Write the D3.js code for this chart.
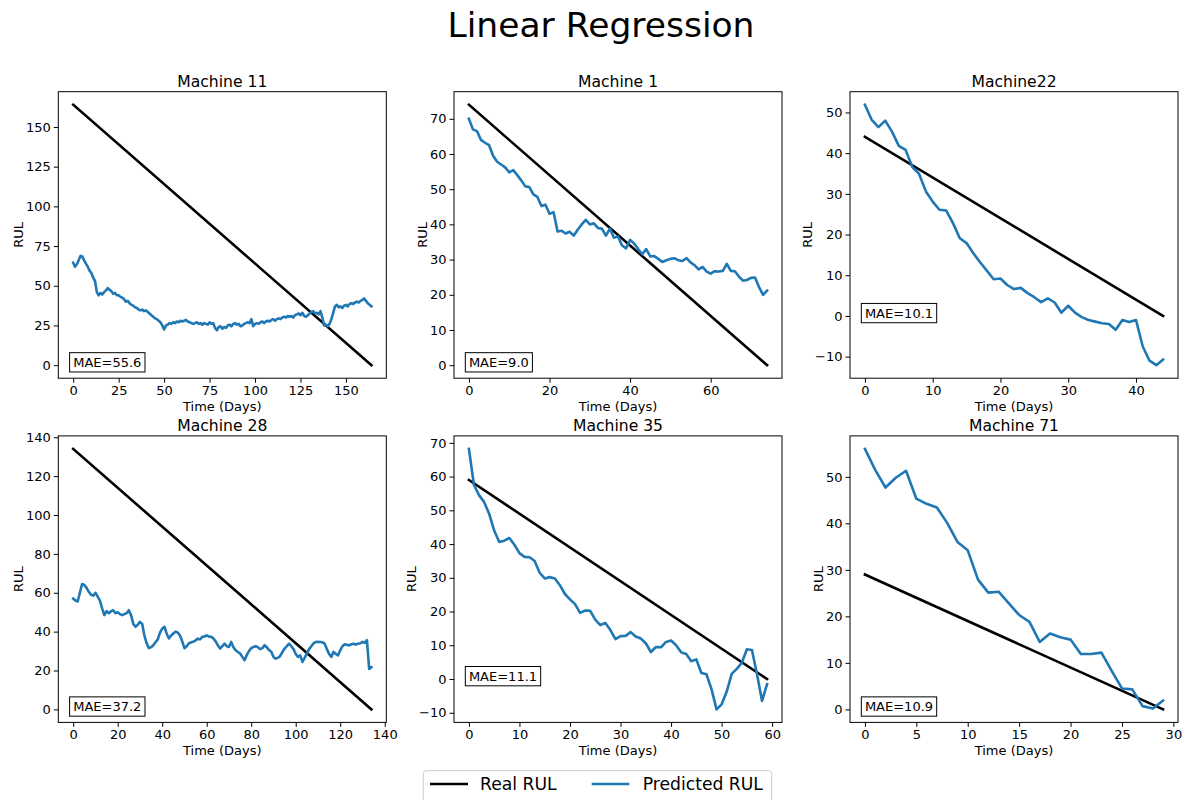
<!DOCTYPE html>
<html>
<head>
<meta charset="utf-8">
<script src="https://cdn.jsdelivr.net/npm/d3@7"></script>
<style>
  body { margin: 0; background: #fff; }
  svg { display: block; font-family: "DejaVu Sans", sans-serif; }
</style>
</head>
<body>
<svg id="chart" width="1187" height="800"></svg>
<script>
// ---- data -------------------------------------------------------------
const chartTitle = "Linear Regression";
const machineTitles = ["Machine 11", "Machine 1", "Machine22", "Machine 28", "Machine 35", "Machine 71"];
const maeValues = [55.6, 9.0, 10.1, 37.2, 11.1, 10.9];
const legendLabels = ["Real RUL", "Predicted RUL"];

// real RUL: straight countdown, stored as [first day, last day] and [RUL at first, RUL at last]
const realDays = [[0, 164], [0, 74], [0, 44], [0, 134], [0, 59], [0, 29]];
const realRul  = [[164, 0], [74, 0], [44, 0], [134, 0], [59, 0], [29, 0]];

// predicted RUL, one value per day starting at day 0
const pred11 = [
  64.5, 62, 63.5, 66, 68.8, 68.5, 66, 64, 62, 59.5, 58, 55, 53, 46, 44, 45.5, 44.5, 46, 47, 48.5,
  47.5, 46.5, 45, 45.5, 44, 44, 43, 42.5, 41.5, 40, 40.5, 39, 38, 37.5, 36.5, 36, 35, 34.5, 35, 34,
  34.5, 33.5, 32.5, 31.5, 30.5, 29.5, 29, 28, 27, 25, 22.5, 25, 25.5, 26.5, 26, 27, 26.5, 27.5, 27, 28,
  27.5, 28, 28.5, 27.5, 27, 26.5, 26, 26.5, 27, 26, 26.5, 25.5, 26.5, 26, 25.5, 27, 26, 26.5, 23.5, 22,
  24, 24.5, 23, 24, 23.5, 25, 25.5, 24.5, 26, 26.5, 25.5, 26, 24.5, 25, 26, 26.5, 27, 26.5, 29, 24.5,
  26, 26.5, 26, 27, 27.5, 26.5, 27.5, 28, 27.5, 28.5, 29, 28, 29, 29.5, 29, 30, 30.5, 30, 31, 30.5,
  31, 30, 31.5, 32, 32.5, 31.5, 33, 31, 30.5, 31.5, 32.5, 33.5, 34, 32.5, 33, 32, 34, 30, 25, 25.5,
  24.5, 26, 29, 33, 37, 38, 36.5, 37, 36, 37.5, 38, 37, 38.5, 39, 38.5, 39.5, 40, 39.5, 40.5, 41,
  42, 40.5, 39, 38, 37
];
const pred1 = [
  70, 67, 66.5, 64, 63.2, 62.5, 59.5, 57.8, 57, 56.2, 54.8, 55.4, 54, 52.5, 50.8, 50.6, 48.5, 47.8, 45.2, 45.6,
  43, 43.5, 38, 38.2, 37.4, 37.9, 36.8, 38.5, 40, 41.3, 40, 40.3, 39, 38.8, 36.8, 38.8, 36.2, 36.6, 34, 33.2,
  35.6, 34.6, 33, 31.5, 33, 30.9, 31, 30.2, 29.3, 29.8, 30.2, 30.4, 29.8, 29.6, 30.4, 29.2, 28.4, 27.2, 27.9, 26.6,
  26, 26.7, 26.6, 26.8, 28.8, 26.8, 26.7, 25.2, 24, 24.2, 24.8, 24.9, 22.2, 20, 21.2
];
const pred22 = [
  51.9, 48.2, 46.4, 48, 45.3, 41.8, 40.8, 36.6, 34.9, 30.6, 28.1, 26.1, 25.9, 22.8, 19.1, 17.9, 15.4, 13.2, 11.1, 9,
  9.2, 7.6, 6.6, 6.9, 5.6, 4.6, 3.4, 4.3, 3.3, 0.8, 2.5, 0.8, -0.3, -1, -1.4, -1.8, -2, -3.4, -1, -1.5,
  -1, -7.5, -11, -12.1, -10.7
];
const pred28 = [
  57, 56, 55.5, 60, 64.5, 64, 62.5, 60.5, 59, 58.5, 60, 58, 56, 52, 48.5, 50.5, 49.5, 50.5, 51, 49.5,
  50, 49, 48.5, 49, 49.5, 51, 48.5, 44, 42.5, 43.5, 45, 44, 38, 34, 31.5, 32, 33, 34.5, 36, 39.5,
  41.5, 42.5, 39, 36.5, 38, 39, 40, 39.5, 38, 35, 31.5, 32.5, 34, 34.5, 34.8, 35.5, 36.4, 36, 37.3, 37.5,
  38.1, 37.5, 37.3, 36.5, 35, 33, 31.3, 32.5, 33.8, 32.5, 32.1, 34.7, 32, 30.4, 29.5, 28.7, 27, 25.3, 28, 30,
  31.5, 32.1, 32.5, 32, 31, 31.5, 33, 32, 30.5, 29.6, 27, 26.1, 26.5, 27.5, 29.5, 31.3, 32.5, 33.8, 32.5, 31,
  28.5, 27, 27.8, 24.4, 26.5, 28.7, 31, 32.5, 34, 34.7, 34.8, 34.7, 34.5, 33.8, 31, 28.5, 27, 29.6, 28.5, 27.8,
  30.4, 32.5, 33.5, 33.2, 33, 33.5, 33.8, 33.4, 33.8, 34, 34.7, 34.2, 35.6, 20.8, 21.8
];
const pred35 = [
  68.2, 57.5, 54.5, 52.5, 49, 44, 40.6, 41, 41.8, 39.8, 37.3, 36.2, 36.1, 35, 31.5, 29.8, 30.2, 29.8, 27.8, 25.2,
  23.6, 22.2, 19.6, 20.3, 20.2, 17.6, 16, 16.6, 14.5, 11.8, 12.7, 12.8, 13.9, 12.6, 12, 10.6, 8, 9.5, 9.4, 11,
  11.4, 10, 7.9, 7.4, 5.3, 5.8, 1.8, 1.4, -3, -9, -7.5, -3.8, 1.5, 3, 4.8, 8.8, 8.6, 1.5, -6.5, -1.5
];
const pred71 = [
  56, 51.5, 47.7, 49.8, 51.3, 45.3, 44.2, 43.4, 40.1, 36, 34.2, 27.9, 25.1, 25.3, 22.8, 20.3, 18.8, 14.5, 16.3, 15.5,
  15, 11.9, 11.9, 12.2, 8.3, 4.5, 4.3, 0.7, 0.2, 1.9
];
const predictedSeries = [pred11, pred1, pred22, pred28, pred35, pred71];

const xTickValues = [
  [0, 25, 50, 75, 100, 125, 150], [0, 20, 40, 60], [0, 10, 20, 30, 40],
  [0, 20, 40, 60, 80, 100, 120, 140], [0, 10, 20, 30, 40, 50, 60], [0, 5, 10, 15, 20, 25, 30]
];
const yTickValues = [
  [0, 25, 50, 75, 100, 125, 150], [0, 10, 20, 30, 40, 50, 60, 70], [-10, 0, 10, 20, 30, 40, 50],
  [0, 20, 40, 60, 80, 100, 120, 140], [-10, 0, 10, 20, 30, 40, 50, 60, 70], [0, 10, 20, 30, 40, 50]
];

// ---- layout -----------------------------------------------------------
const REAL_COLOR = "#000000";
const PRED_COLOR = "#1f77b4";
const LINE_W = 2.6;
const colLeft = [58.3, 454, 850];
const rowTop = [91.7, 435.9];
const panelW = 328, panelH = 286.5;

const svg = d3.select("#chart");
svg.append("rect").attr("width", 1187).attr("height", 800).attr("fill", "#fff");

svg.append("text")
  .attr("x", 601).attr("y", 37)
  .attr("text-anchor", "middle")
  .attr("font-size", "34.5px").attr("fill", "#000")
  .text(chartTitle);

const fmt = v => (v < 0 ? "\u2212" + Math.abs(v) : String(v));
const padded = (lo, hi) => { const m = (hi - lo) * 0.05; return [lo - m, hi + m]; };

predictedSeries.forEach((pred, i) => {
  const left = colLeft[i % 3], top = rowTop[Math.floor(i / 3)];
  const g = svg.append("g").attr("transform", `translate(${left},${top})`);

  const xLo = Math.min(realDays[i][0], 0), xHi = Math.max(realDays[i][1], pred.length - 1);
  const yLo = Math.min(d3.min(realRul[i]), d3.min(pred));
  const yHi = Math.max(d3.max(realRul[i]), d3.max(pred));
  const x = d3.scaleLinear().domain(padded(xLo, xHi)).range([0, panelW]);
  const y = d3.scaleLinear().domain(padded(yLo, yHi)).range([panelH, 0]);

  // axes
  const xAxis = g.append("g").attr("transform", `translate(0,${panelH})`)
    .call(d3.axisBottom(x).tickValues(xTickValues[i]).tickFormat(fmt).tickSize(4.5).tickPadding(3.3));
  const yAxis = g.append("g")
    .call(d3.axisLeft(y).tickValues(yTickValues[i]).tickFormat(fmt).tickSize(4.5).tickPadding(3));
  [xAxis, yAxis].forEach(a => {
    a.select(".domain").remove();
    a.selectAll(".tick line").attr("stroke", "#000").attr("stroke-width", 1);
    a.selectAll(".tick text").attr("font-size", "13px").attr("fill", "#000")
      .attr("font-family", "DejaVu Sans, sans-serif");
  });

  // lines
  const realPts = realDays[i].map((d, k) => [d, realRul[i][k]]);
  g.append("path")
    .attr("d", d3.line().x(p => x(p[0])).y(p => y(p[1]))(realPts))
    .attr("fill", "none").attr("stroke", REAL_COLOR).attr("stroke-width", LINE_W)
    .attr("stroke-linecap", "square");
  g.append("path")
    .attr("d", d3.line().x((v, j) => x(j)).y(v => y(v))(pred))
    .attr("fill", "none").attr("stroke", PRED_COLOR).attr("stroke-width", LINE_W)
    .attr("stroke-linejoin", "round").attr("stroke-linecap", "square");

  // frame
  g.append("rect").attr("width", panelW).attr("height", panelH)
    .attr("fill", "none").attr("stroke", "#000").attr("stroke-width", 1);

  // MAE annotation at the data origin
  const maeG = g.append("g");
  const box = maeG.append("rect");
  const t = maeG.append("text")
    .attr("x", x(0)).attr("y", y(0) + 1.7)
    .attr("font-size", "13px").attr("fill", "#000")
    .text("MAE=" + maeValues[i].toFixed(1));
  const w = t.node().getComputedTextLength();
  box.attr("x", x(0) - 3.6).attr("y", y(0) - 12.5)
    .attr("width", w + 7.2).attr("height", 19.3)
    .attr("fill", "#fff").attr("stroke", "#000").attr("stroke-width", 1);

  // titles and axis labels
  g.append("text").attr("x", panelW / 2).attr("y", -4.7)
    .attr("text-anchor", "middle").attr("font-size", "15.6px").attr("fill", "#000")
    .text(machineTitles[i]);
  g.append("text").attr("x", panelW / 2).attr("y", panelH + 32.5)
    .attr("text-anchor", "middle").attr("font-size", "13px").attr("fill", "#000")
    .text("Time (Days)");
  const minLeft = d3.min(yAxis.selectAll(".tick text").nodes(), n => {
    const b = n.getBBox();
    return b.x;
  });
  g.append("text")
    .attr("transform", `translate(${minLeft - 3},${panelH / 2}) rotate(-90)`)
    .attr("text-anchor", "middle").attr("font-size", "13px").attr("fill", "#000")
    .text("RUL");
});

// legend
const lg = svg.append("g");
lg.append("rect").attr("x", 423.3).attr("y", 770.7).attr("width", 348.4).attr("height", 40)
  .attr("rx", 3).attr("fill", "#fff").attr("stroke", "#cccccc").attr("stroke-width", 1);
const legendItems = [
  { label: legendLabels[0], color: REAL_COLOR, x1: 430, x2: 468, tx: 480 },
  { label: legendLabels[1], color: PRED_COLOR, x1: 591.7, x2: 629.3, tx: 642.7 }
];
legendItems.forEach(it => {
  lg.append("line").attr("x1", it.x1).attr("x2", it.x2).attr("y1", 784).attr("y2", 784)
    .attr("stroke", it.color).attr("stroke-width", LINE_W);
  lg.append("text").attr("x", it.tx).attr("y", 790)
    .attr("font-size", "17.2px").attr("fill", "#000").text(it.label);
});
</script>
</body>
</html>
